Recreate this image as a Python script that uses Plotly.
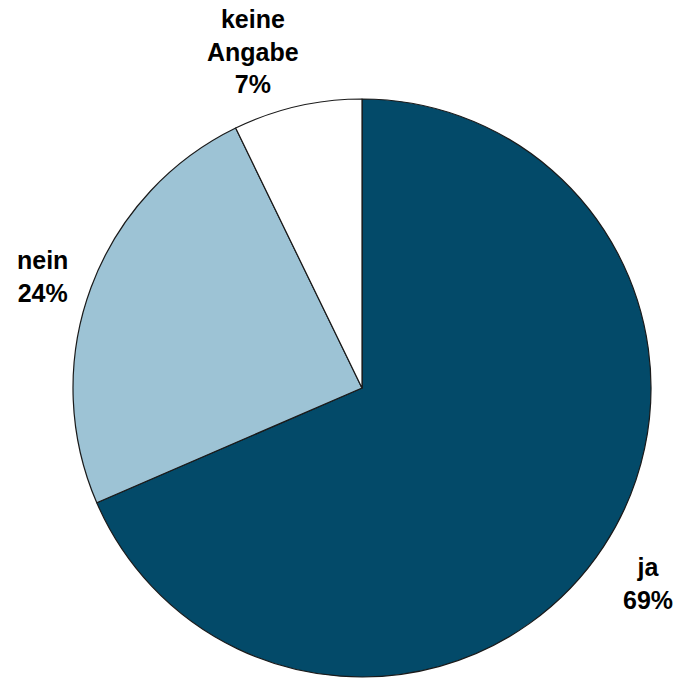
import plotly.graph_objects as go

labels = ["ja", "nein", "keine Angabe"]
values = [68.5, 24.3, 7.2]
pct_labels = ["69%", "24%", "7%"]
label_names = ["ja", "nein", "keine<br>Angabe"]
colors = ["#034A69", "#9DC3D5", "#FFFFFF"]
# label anchor positions (paper coords)
label_x = [648 / 677, 42 / 677, 253 / 677]
label_y = [1 - 583 / 678, 1 - 276 / 678, 1 - 51 / 678]

W, H = 677, 678
cx, cy, r = 362, 388, 289

fig = go.Figure(go.Pie(
    labels=labels,
    values=values,
    sort=False,
    direction="clockwise",
    rotation=0,
    marker=dict(colors=colors, line=dict(color="#1a1a1a", width=1.2)),
    textinfo="none",
    hoverinfo="label+percent",
    showlegend=False,
    domain=dict(x=[(cx - r) / W, (cx + r) / W], y=[(H - cy - r) / H, (H - cy + r) / H]),
))

for n, p, x, y in zip(label_names, pct_labels, label_x, label_y):
    fig.add_annotation(
        text="<b>" + n + "<br>" + p + "</b>", x=x, y=y, xref="paper", yref="paper",
        showarrow=False, xanchor="center", yanchor="middle", align="center",
        font=dict(family="Liberation Sans, Arial, sans-serif", size=25, color="#000000"),
    )

fig.update_layout(
    width=W, height=H,
    margin=dict(l=0, r=0, t=0, b=0),
    paper_bgcolor="white",
    plot_bgcolor="white",
)

fig.write_html(
    "out.html",
    config={"displayModeBar": False},
    post_script="document.body.style.margin='0';document.body.style.overflow='hidden';",
)
